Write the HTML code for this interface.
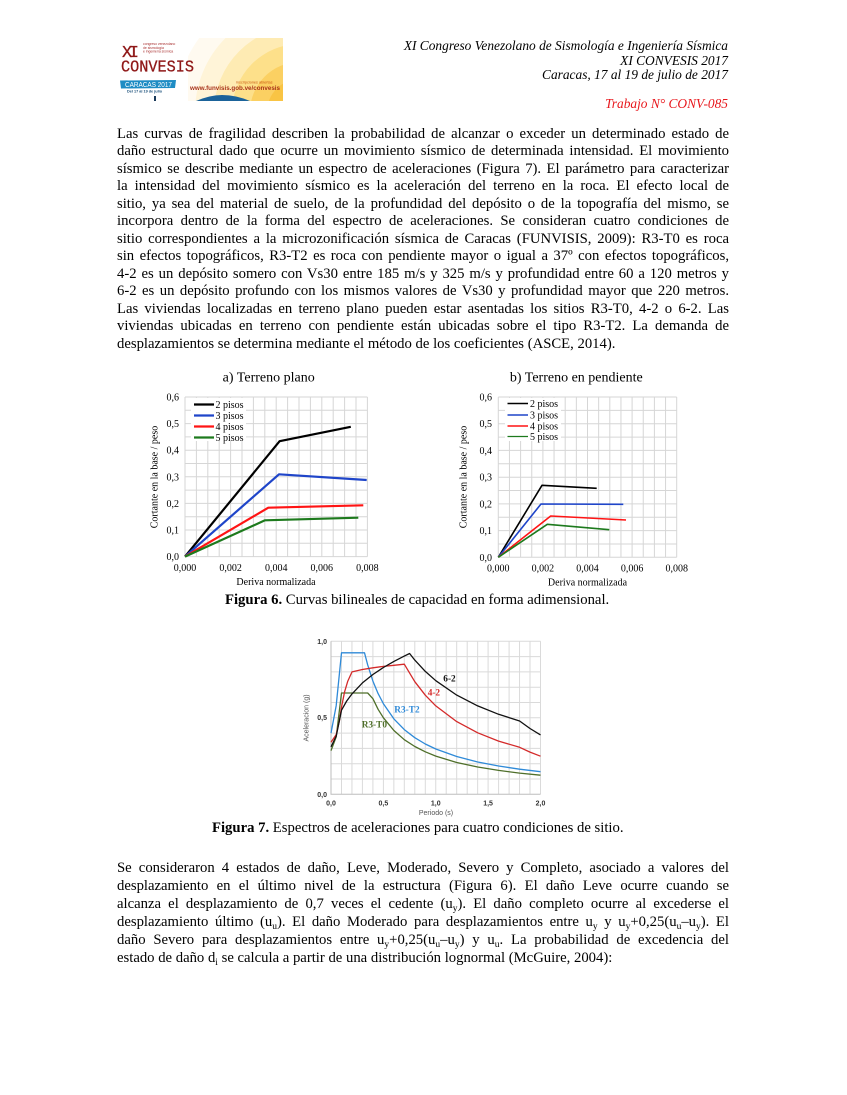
<!DOCTYPE html>
<html><head><meta charset="utf-8">
<style>
html,body{margin:0;padding:0;background:#fff;}
body{width:847px;height:1095px;position:relative;overflow:hidden;font-family:"Liberation Serif",serif;color:#000;}
.p{position:absolute;left:117px;width:612px;font-size:14.7px;}
.p div{text-align:justify;text-align-last:justify;word-spacing:-0.6px;white-space:normal;}
.p div.last{text-align:left;text-align-last:left;word-spacing:0;}
.p1{top:125.6px;line-height:17.5px;}
.p2{top:858.5px;line-height:18px;}
sub{font-size:9.5px;vertical-align:-3px;line-height:0;}
.h{position:absolute;right:119px;font-size:13.4px;font-style:italic;line-height:14px;height:14px;white-space:nowrap;text-align:right;}
.cap{position:absolute;font-size:14.7px;line-height:17px;white-space:nowrap;}
</style></head><body>

<!-- logo -->
<svg style="position:absolute;left:0;top:0" width="847" height="110">
<defs><clipPath id="lc"><rect x="118" y="38" width="165" height="63"/></clipPath></defs>
<g clip-path="url(#lc)">
<rect x="118" y="38" width="165" height="63" fill="#fff"/>
<circle cx="300" cy="112" r="125" fill="#fffaf0"/>
<circle cx="300" cy="112" r="105" fill="#fff4d8"/>
<circle cx="300" cy="112" r="86" fill="#feebb3"/>
<circle cx="300" cy="112" r="68" fill="#fde08a"/>
<circle cx="300" cy="112" r="50" fill="#fbd062"/>
<circle cx="300" cy="112" r="33" fill="#f9c444"/>
<rect x="118" y="38" width="70" height="63" fill="#fff"/>
<path d="M196 101 Q210 95 222 95 Q236 95 250 101 Z" fill="#1b639a"/>
<rect x="154" y="96" width="2" height="5" fill="#1b3a5a"/>
</g>
<text x="122" y="57" font-family="Liberation Mono, monospace" font-size="17" fill="#8f1818" stroke="#8f1818" stroke-width="0.3" textLength="17">XI</text>
<text x="143" y="45" font-family="Liberation Sans, sans-serif" font-size="3.4" fill="#a33">congreso venezolano</text>
<text x="143" y="48.8" font-family="Liberation Sans, sans-serif" font-size="3.4" fill="#a33">de sismología</text>
<text x="143" y="52.6" font-family="Liberation Sans, sans-serif" font-size="3.4" fill="#a33">e ingeniería sísmica</text>
<text x="121" y="71.5" font-family="Liberation Mono, monospace" font-size="17" fill="#8f1818" stroke="#8f1818" stroke-width="0.3" textLength="73" lengthAdjust="spacingAndGlyphs">CONVESIS</text>
<path d="M120 80.5 L176 80 L175 88 L121 88.5 Z" fill="#1e8cc4"/>
<text x="125" y="87" font-family="Liberation Sans, sans-serif" font-size="7.2" fill="#fff" textLength="47" lengthAdjust="spacingAndGlyphs">CARACAS 2017</text>
<text x="127" y="92.5" font-family="Liberation Sans, sans-serif" font-weight="bold" font-size="3.8" fill="#1a4f7a">Del 17 al 19 de julio</text>
<text x="236" y="83.5" font-family="Liberation Sans, sans-serif" font-size="3.8" fill="#c8560f">inscripciones abiertas</text>
<text x="190" y="90" font-family="Liberation Sans, sans-serif" font-weight="bold" font-size="6.6" fill="#a8321a" textLength="90" lengthAdjust="spacingAndGlyphs">www.funvisis.gob.ve/convesis</text>
</svg>

<div class="h" style="top:39px">XI Congreso Venezolano de Sismología e Ingeniería Sísmica</div>
<div class="h" style="top:54px">XI CONVESIS 2017</div>
<div class="h" style="top:68.3px">Caracas, 17 al 19 de julio de 2017</div>
<div class="h" style="top:96.5px;color:#e8171c">Trabajo N° CONV-085</div>

<div class="p p1">
<div>Las curvas de fragilidad describen la probabilidad de alcanzar o exceder un determinado estado de</div>
<div>daño estructural dado que ocurre un movimiento sísmico de determinada intensidad. El movimiento</div>
<div>sísmico se describe mediante un espectro de aceleraciones (Figura 7). El parámetro para caracterizar</div>
<div>la intensidad del movimiento sísmico es la aceleración del terreno en la roca. El efecto local de</div>
<div>sitio, ya sea del material de suelo, de la profundidad del depósito o de la topografía del mismo, se</div>
<div>incorpora dentro de la forma del espectro de aceleraciones. Se consideran cuatro condiciones de</div>
<div>sitio correspondientes a la microzonificación sísmica de Caracas (FUNVISIS, 2009): R3-T0 es roca</div>
<div>sin efectos topográficos, R3-T2 es roca con pendiente mayor o igual a 37º con efectos topográficos,</div>
<div>4-2 es un depósito somero con Vs30 entre 185 m/s y 325 m/s y profundidad entre 60 a 120 metros y</div>
<div>6-2 es un depósito profundo con los mismos valores de Vs30 y profundidad mayor que 220 metros.</div>
<div>Las viviendas localizadas en terreno plano pueden estar asentadas los sitios R3-T0, 4-2 o 6-2. Las</div>
<div>viviendas ubicadas en terreno con pendiente están ubicadas sobre el tipo R3-T2. La demanda de</div>
<div class="last">desplazamientos se determina mediante el método de los coeficientes (ASCE, 2014).</div>
</div>

<!-- charts -->
<svg style="position:absolute;left:0;top:0" width="847" height="1095" font-family="Liberation Serif, serif">
<!-- Figure 6a -->
<text x="268.7" y="381.5" font-size="14" text-anchor="middle">a) Terreno plano</text>
<path fill="none" stroke="#d6d6d6" stroke-width="1" d="M185 397V556.6M196.4 397V556.6M207.8 397V556.6M219.2 397V556.6M230.6 397V556.6M242 397V556.6M253.4 397V556.6M264.8 397V556.6M276.2 397V556.6M287.6 397V556.6M299 397V556.6M310.4 397V556.6M321.8 397V556.6M333.2 397V556.6M344.6 397V556.6M356 397V556.6M367.4 397V556.6M185 397H367.4M185 410.3H367.4M185 423.6H367.4M185 436.9H367.4M185 450.2H367.4M185 463.5H367.4M185 476.8H367.4M185 490.1H367.4M185 503.4H367.4M185 516.7H367.4M185 530H367.4M185 543.3H367.4M185 556.6H367.4"/>
<rect x="191" y="398" width="55" height="43" fill="#fff"/>
<g font-size="10">
<text x="179" y="560.1" text-anchor="end">0,0</text>
<text x="179" y="533.5" text-anchor="end">0,1</text>
<text x="179" y="506.9" text-anchor="end">0,2</text>
<text x="179" y="480.3" text-anchor="end">0,3</text>
<text x="179" y="453.7" text-anchor="end">0,4</text>
<text x="179" y="427.1" text-anchor="end">0,5</text>
<text x="179" y="400.5" text-anchor="end">0,6</text>
<text x="185" y="571" text-anchor="middle">0,000</text>
<text x="230.6" y="571" text-anchor="middle">0,002</text>
<text x="276.2" y="571" text-anchor="middle">0,004</text>
<text x="321.8" y="571" text-anchor="middle">0,006</text>
<text x="367.4" y="571" text-anchor="middle">0,008</text>
<text x="276" y="585" text-anchor="middle">Deriva normalizada</text>
<text transform="translate(157.5,477) rotate(-90)" text-anchor="middle">Cortante en la base / peso</text>
<text x="215.5" y="408">2 pisos</text>
<text x="215.5" y="419">3 pisos</text>
<text x="215.5" y="430">4 pisos</text>
<text x="215.5" y="441">5 pisos</text>
</g>
<g fill="none" stroke-width="2.2" stroke-linejoin="round">
<path d="M194 404.5H214" stroke="#000"/>
<path d="M194 415.5H214" stroke="#1f45c9"/>
<path d="M194 426.5H214" stroke="#ff1414"/>
<path d="M194 437.5H214" stroke="#1d7a1d"/>
<polyline points="185,556.6 279.6,441.2 350.8,426.8" stroke="#000"/>
<polyline points="185,556.6 279,474.3 366.7,480" stroke="#1f45c9"/>
<polyline points="185,556.6 268.3,507.7 363.3,505.3" stroke="#ff1414"/>
<polyline points="185,556.6 265,520.3 358.3,517.7" stroke="#1d7a1d"/>
</g>

<!-- Figure 6b -->
<text x="576.3" y="381.5" font-size="14" text-anchor="middle">b) Terreno en pendiente</text>
<path fill="none" stroke="#d6d6d6" stroke-width="1" d="M498.3 397V557.3M509.45 397V557.3M520.6 397V557.3M531.75 397V557.3M542.9 397V557.3M554.05 397V557.3M565.2 397V557.3M576.35 397V557.3M587.5 397V557.3M598.65 397V557.3M609.8 397V557.3M620.95 397V557.3M632.1 397V557.3M643.25 397V557.3M654.4 397V557.3M665.55 397V557.3M676.7 397V557.3M498.3 397H676.7M498.3 410.4H676.7M498.3 423.7H676.7M498.3 437.1H676.7M498.3 450.4H676.7M498.3 463.8H676.7M498.3 477.2H676.7M498.3 490.5H676.7M498.3 503.9H676.7M498.3 517.2H676.7M498.3 530.6H676.7M498.3 544H676.7M498.3 557.3H676.7"/>
<rect x="505" y="398" width="56" height="43" fill="#fff"/>
<g font-size="10">
<text x="492" y="560.8" text-anchor="end">0,0</text>
<text x="492" y="534.1" text-anchor="end">0,1</text>
<text x="492" y="507.4" text-anchor="end">0,2</text>
<text x="492" y="480.7" text-anchor="end">0,3</text>
<text x="492" y="453.9" text-anchor="end">0,4</text>
<text x="492" y="427.2" text-anchor="end">0,5</text>
<text x="492" y="400.5" text-anchor="end">0,6</text>
<text x="498.3" y="571.5" text-anchor="middle">0,000</text>
<text x="542.9" y="571.5" text-anchor="middle">0,002</text>
<text x="587.5" y="571.5" text-anchor="middle">0,004</text>
<text x="632.1" y="571.5" text-anchor="middle">0,006</text>
<text x="676.7" y="571.5" text-anchor="middle">0,008</text>
<text x="587.5" y="585.5" text-anchor="middle">Deriva normalizada</text>
<text transform="translate(466.5,477) rotate(-90)" text-anchor="middle">Cortante en la base / peso</text>
<text x="530" y="407">2 pisos</text>
<text x="530" y="418.5">3 pisos</text>
<text x="530" y="429.5">4 pisos</text>
<text x="530" y="440">5 pisos</text>
</g>
<g fill="none" stroke-width="1.6" stroke-linejoin="round">
<path d="M507.5 403.5H528" stroke="#000"/>
<path d="M507.5 415H528" stroke="#1f45c9"/>
<path d="M507.5 426H528" stroke="#ff1414"/>
<path d="M507.5 436.5H528" stroke="#1d7a1d" stroke-width="1.2"/>
<polyline points="498.3,557.3 542,485.3 596.7,488.3" stroke="#000"/>
<polyline points="498.3,557.3 541,504 623.3,504.3" stroke="#1f45c9"/>
<polyline points="498.3,557.3 550.7,516 626,520" stroke="#ff1414"/>
<polyline points="498.3,557.3 547.3,524.3 609.3,529.7" stroke="#1d7a1d"/>
</g>

<!-- Figure 7 -->
<path fill="none" stroke="#dadada" stroke-width="1" d="M341.5 641.3V794.3M351.95 641.3V794.3M362.4 641.3V794.3M372.9 641.3V794.3M383.4 641.3V794.3M393.85 641.3V794.3M404.3 641.3V794.3M414.8 641.3V794.3M425.3 641.3V794.3M435.75 641.3V794.3M446.2 641.3V794.3M456.7 641.3V794.3M467.2 641.3V794.3M477.65 641.3V794.3M488.1 641.3V794.3M498.6 641.3V794.3M509.1 641.3V794.3M519.55 641.3V794.3M530 641.3V794.3M540.5 641.3V794.3M331 641.3H540.5M331 656.6H540.5M331 671.9H540.5M331 687.2H540.5M331 702.5H540.5M331 717.8H540.5M331 733.1H540.5M331 748.4H540.5M331 763.7H540.5M331 779H540.5"/>
<path fill="none" stroke="#bdbdbd" stroke-width="1" d="M331 641.3V794.3H540.5"/>
<g font-family="Liberation Sans, sans-serif" font-size="7" fill="#333">
<text x="327" y="643.8" text-anchor="end" font-weight="bold">1,0</text>
<text x="327" y="719.8" text-anchor="end" font-weight="bold">0,5</text>
<text x="327" y="796.8" text-anchor="end" font-weight="bold">0,0</text>
<text x="331" y="805.5" text-anchor="middle" font-weight="bold">0,0</text>
<text x="383.4" y="805.5" text-anchor="middle" font-weight="bold">0,5</text>
<text x="435.75" y="805.5" text-anchor="middle" font-weight="bold">1,0</text>
<text x="488.1" y="805.5" text-anchor="middle" font-weight="bold">1,5</text>
<text x="540.5" y="805.5" text-anchor="middle" font-weight="bold">2,0</text>
<text x="436" y="815" text-anchor="middle" fill="#555">Periodo (s)</text>
<text transform="translate(308.5,718) rotate(-90)" text-anchor="middle" fill="#555">Aceleracion (g)</text>
</g>
<g fill="none" stroke-width="1.3" stroke-linejoin="round">
<polyline stroke="#2f8ad8" points="331,733.1 336.2,705.6 341.5,652.8 363.5,652.8 364.5,652.8 367.7,664.9 372.9,681.1 378.1,693.6 383.4,703.7 393.9,718.9 404.3,729.6 414.8,737.7 425.3,744 435.8,749 456.7,756.5 477.7,762 498.6,766 519.6,769.2 540.5,771.7"/>
<polyline stroke="#4f6f2a" points="331,750.7 336.2,736.9 341.5,693 367.7,693 372.9,698.7 378.1,709.3 383.4,717.8 393.9,730.5 404.3,739.7 414.8,746.5 425.3,751.8 435.8,756.1 456.7,762.5 477.7,767 498.6,770.4 519.6,773.1 540.5,775.2"/>
<polyline stroke="#d42a2a" points="331,742.3 336.2,734.6 339.4,720.9 341.5,707.1 344.6,691.8 347.8,681.1 352,671.9 362.4,669.5 372.9,667.8 383.4,666.4 393.9,665.3 404.3,664.2 414.8,681.7 425.3,695.2 435.8,705.9 456.7,721.6 477.7,732.8 498.6,741.1 519.6,747.3 530,752.1 540.5,756.2"/>
<polyline stroke="#111" points="331,746.9 336.2,736.2 341.5,710.2 346.7,701 352,693.9 362.4,682.9 372.9,674.5 383.4,667.5 393.9,661.4 404.3,656.1 409.6,653.5 414.8,660.1 425.3,671.4 435.8,680.7 456.7,695.1 477.7,705.9 498.6,714.3 519.6,721 530,728.5 540.5,734.9"/>
</g>
<g font-size="9.3" font-weight="bold">
<text x="443.3" y="681.5" fill="#111">6-2</text>
<text x="427.7" y="695.5" fill="#d42a2a">4-2</text>
<text x="394.3" y="712.5" fill="#2f8ad8">R3-T2</text>
<text x="361.7" y="727.5" fill="#4f6f2a">R3-T0</text>
</g>
</svg>

<div class="cap" style="left:225px;top:592px"><b>Figura 6.</b> Curvas bilineales de capacidad en forma adimensional.</div>
<div class="cap" style="left:212px;top:819.5px"><b>Figura 7.</b> Espectros de aceleraciones para cuatro condiciones de sitio.</div>

<div class="p p2">
<div>Se consideraron 4 estados de daño, Leve, Moderado, Severo y Completo, asociado a valores del</div>
<div>desplazamiento en el último nivel de la estructura (Figura 6). El daño Leve ocurre cuando se</div>
<div>alcanza el desplazamiento de 0,7 veces el cedente (u<sub>y</sub>). El daño completo ocurre al excederse el</div>
<div>desplazamiento último (u<sub>u</sub>). El daño Moderado para desplazamientos entre u<sub>y</sub> y u<sub>y</sub>+0,25(u<sub>u</sub>–u<sub>y</sub>). El</div>
<div>daño Severo para desplazamientos entre u<sub>y</sub>+0,25(u<sub>u</sub>–u<sub>y</sub>) y u<sub>u</sub>. La probabilidad de excedencia del</div>
<div class="last">estado de daño d<sub>i</sub> se calcula a partir de una distribución lognormal (McGuire, 2004):</div>
</div>

</body></html>
